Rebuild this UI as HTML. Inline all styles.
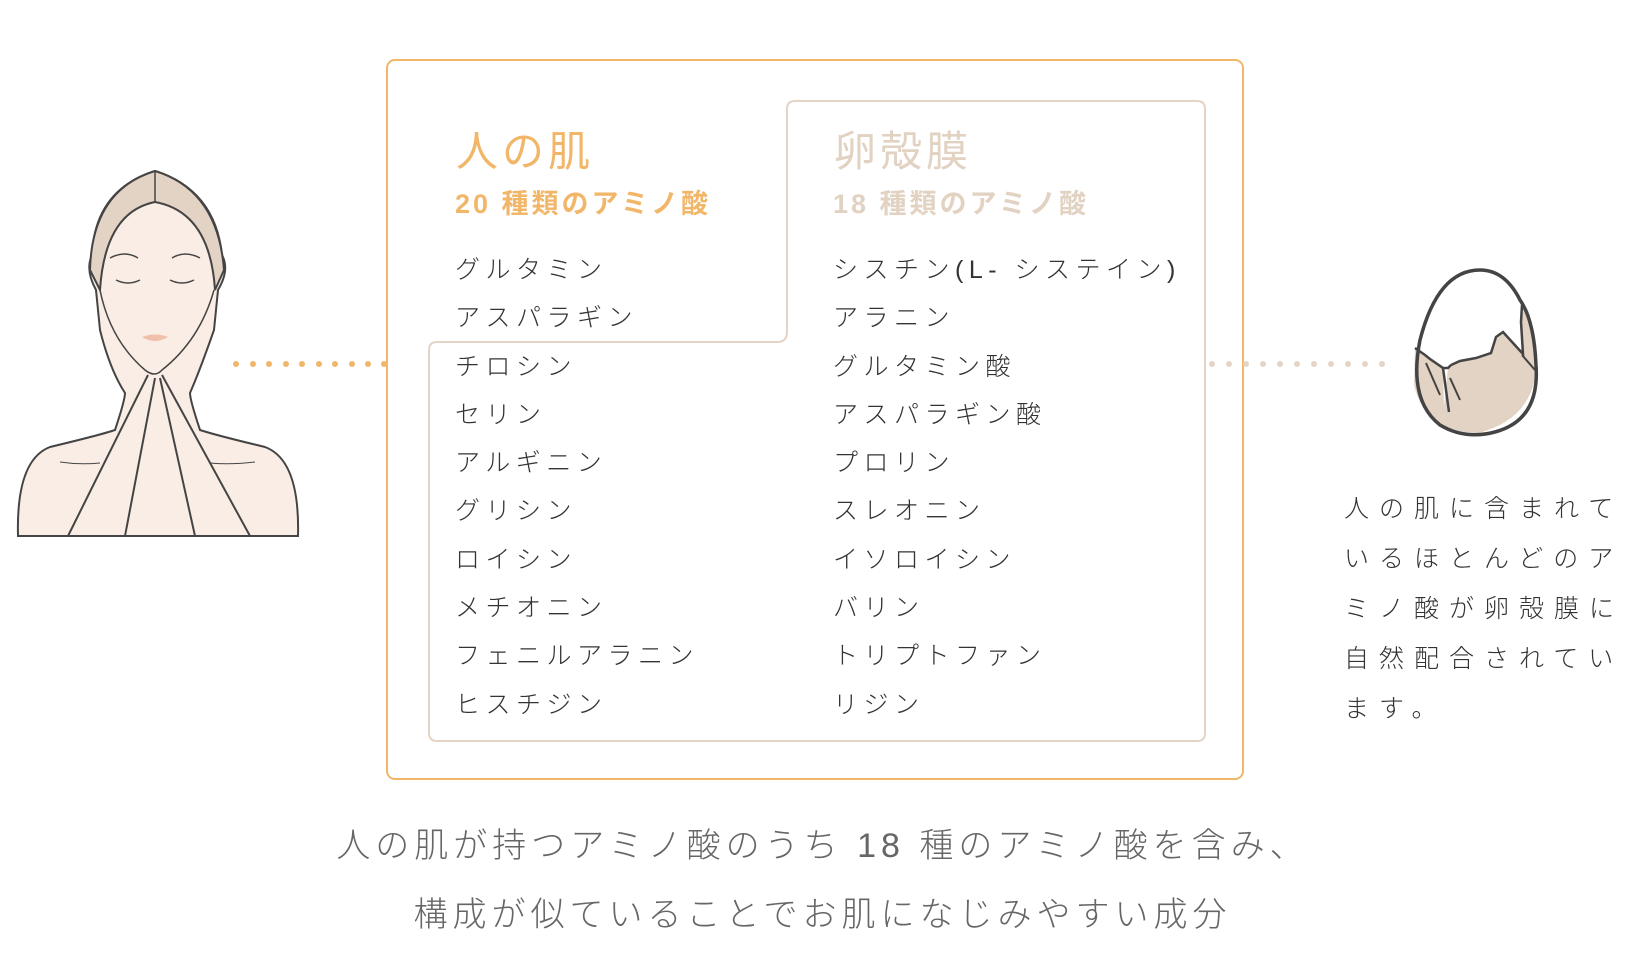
<!DOCTYPE html>
<html><head><meta charset="utf-8"><style>
body{margin:0;width:1630px;height:980px;background:#fff;position:relative;overflow:hidden;font-family:"Liberation Sans","Noto Sans CJK JP",sans-serif;}
.a{position:absolute;white-space:nowrap;}
.t{font-size:42px;line-height:1;letter-spacing:4px;}
.s{font-size:27px;font-weight:bold;line-height:1;letter-spacing:3px;}
.li{font-size:25px;font-weight:300;color:#333;letter-spacing:5.5px;line-height:1;}
.r{font-size:25px;font-weight:300;color:#333;letter-spacing:10px;line-height:50px;width:290px;white-space:normal;}
.b{font-size:34px;font-weight:300;color:#666;letter-spacing:5px;line-height:1;}
</style></head><body>
<svg class="a" style="left:0;top:0" width="1630" height="980">
<rect x="387" y="60" width="856" height="719" rx="8" fill="none" stroke="#f2b669" stroke-width="2"/>
<path d="M795 101 H1197 Q1205 101 1205 109 V733 Q1205 741 1197 741 H437 Q429 741 429 733 V350 Q429 342 437 342 H777 Q787 342 787 332 V109 Q787 101 795 101 Z" fill="none" stroke="#e4d4c5" stroke-width="2"/>
<g fill="#f2b669"><circle cx="236" cy="364" r="3"/><circle cx="253" cy="364" r="3"/><circle cx="269" cy="364" r="3"/><circle cx="286" cy="364" r="3"/><circle cx="302" cy="364" r="3"/><circle cx="319" cy="364" r="3"/><circle cx="335" cy="364" r="3"/><circle cx="352" cy="364" r="3"/><circle cx="368" cy="364" r="3"/><circle cx="384" cy="364" r="3"/></g>
<g fill="#e4d4c5"><circle cx="1212" cy="364" r="3"/><circle cx="1229" cy="364" r="3"/><circle cx="1246" cy="364" r="3"/><circle cx="1263" cy="364" r="3"/><circle cx="1280" cy="364" r="3"/><circle cx="1297" cy="364" r="3"/><circle cx="1314" cy="364" r="3"/><circle cx="1331" cy="364" r="3"/><circle cx="1348" cy="364" r="3"/><circle cx="1365" cy="364" r="3"/><circle cx="1382" cy="364" r="3"/></g>
<path d="M1415 348 L1425 355 L1430 359 L1443 368 L1444 407 L1448 368 L1451 365 L1460 361 L1476 358 L1491 353 L1496 337 L1503 332 L1513 343 L1523 354 L1523 339 L1521 322 L1522 305 L1528 310 Q1540 345 1536 372 Q1530 420 1478 433 Q1425 432 1414 385 Z" fill="#e2d3c4"/>
<path d="M1480 270 Q1438 270 1420 340 Q1408 400 1440 425 Q1465 440 1495 432 Q1540 420 1536 365 Q1534 320 1520 300 Q1505 270 1480 270 Z" fill="none" stroke="#444" stroke-width="3.5"/>
<path d="M1415 348 L1425 355 L1430 359 L1443 368 L1449 412 M1443 368 L1448 368 L1451 365 M1451 365 L1460 361 L1476 358 L1491 353 L1496 337 L1503 332 L1513 343 L1523 354 L1521 322 L1522 305" fill="none" stroke="#444" stroke-width="2.5"/>
<path d="M1426 363 L1440 395 M1450 378 L1460 400 M1522 355 L1535 370" stroke="#444" stroke-width="2" fill="none"/>
<g stroke="#444" stroke-width="2" fill="#faede5">
<path d="M18 536 Q16 460 50 447 Q100 435 115 430 Q125 400 125 393 Q110 370 100 330 L96 290 Q85 270 92 255 Q95 190 155 171 Q215 190 222 255 Q230 270 218 290 L214 330 Q200 370 190 393 Q190 400 200 430 Q215 435 265 447 Q300 460 298 536 Z"/>
<path d="M90 270 Q92 190 155 171 Q218 190 224 270 L215 290 Q210 212 155 202 Q105 212 100 290 Z" fill="#e2d3c4"/>
<path d="M155 171 V202" fill="none" stroke-width="1.5"/>
<path d="M68 536 L148 375 M125 536 L155 378 M195 536 L160 378 M250 536 L162 375" fill="none"/>
<path d="M100 290 Q110 340 145 370 Q155 378 162 370 Q200 340 214 290" fill="none" stroke-width="1.5"/>
<path d="M116 280 Q128 286 140 280 M170 280 Q182 286 194 280" fill="none" stroke-width="1.5"/>
<path d="M110 258 Q125 250 138 258 M172 258 Q185 250 200 258" fill="none" stroke-width="1.5"/>
<path d="M142 337 Q155 332 168 337 Q155 345 142 337Z" fill="#f0c0aa" stroke="none"/>
<path d="M60 462 Q80 465 100 463 M210 463 Q230 465 255 462" fill="none" stroke-width="1"/>
</g>
</svg>
<div class="a t" style="left:456px;top:131px;color:#f2b669">人の肌</div>
<div class="a s" style="left:455px;top:191px;color:#f2b669">20 種類のアミノ酸</div>
<div class="a t" style="left:834px;top:131px;color:#e2d2c2">卵殻膜</div>
<div class="a s" style="left:833px;top:191px;color:#e2d2c2">18 種類のアミノ酸</div>
<div class="a li" style="left:455px;top:258px;line-height:48.3px;margin-top:-12px">グルタミン<br>アスパラギン<br>チロシン<br>セリン<br>アルギニン<br>グリシン<br>ロイシン<br>メチオニン<br>フェニルアラニン<br>ヒスチジン</div>
<div class="a li" style="left:833px;top:258px;line-height:48.3px;margin-top:-12px">シスチン(L- システイン)<br>アラニン<br>グルタミン酸<br>アスパラギン酸<br>プロリン<br>スレオニン<br>イソロイシン<br>バリン<br>トリプトファン<br>リジン</div>
<div class="a r" style="left:1344px;top:484px">人の肌に含まれているほとんどのアミノ酸が卵殻膜に自然配合されています。</div>
<div class="a b" style="left:0;width:1645px;text-align:center;top:829px">人の肌が持つアミノ酸のうち 18 種のアミノ酸を含み、</div>
<div class="a b" style="left:0;width:1645px;text-align:center;top:898px">構成が似ていることでお肌になじみやすい成分</div>
</body></html>
